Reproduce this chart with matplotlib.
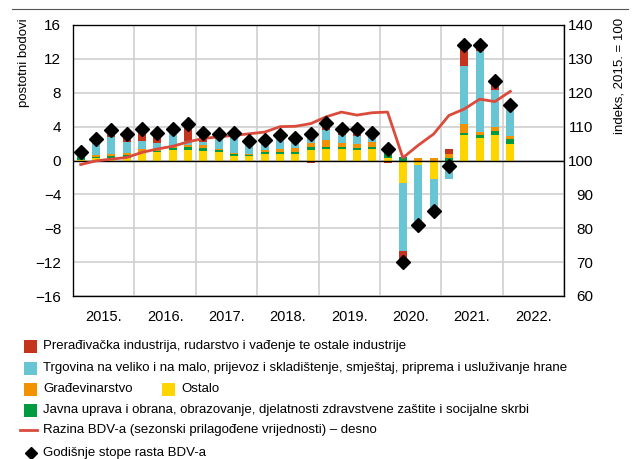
import matplotlib
matplotlib.use('Agg')
import matplotlib.pyplot as plt
from matplotlib import font_manager
import numpy as np
from matplotlib.patches import Rectangle
from matplotlib.lines import Line2D


def has_font(name):
    try:
        font_manager.findfont(name, fallback_to_default=False)
        return True
    except Exception:
        return False


narrow = has_font('Liberation Sans Narrow')
plt.rcParams['font.family'] = (['Liberation Sans Narrow'] if narrow else []) + ['Liberation Sans', 'DejaVu Sans']
plt.rcParams['font.size'] = 10
leg_size = 11 if narrow else 9.5

# kvartali 2015.Q1 - 2022.Q1
years = ['2015.', '2016.', '2017.', '2018.', '2019.', '2020.', '2021.', '2022.']

ostalo = [0.1, 0.3, 0.35, 0.3, 0.9, 1.0, 1.25, 1.25,
          1.15, 1.0, 0.55, 0.5, 0.75, 0.8, 0.8, 1.2,
          1.4, 1.3, 1.2, 1.3, 0.3, -2.7, -0.5, -2.2,
          -0.3, 3.0, 2.6, 3.0, 2.0]
javna = [0.3, 0.1, 0.2, 0.3, 0.15, 0.1, 0.2, 0.3,
         0.35, 0.2, 0.2, 0.2, 0.2, 0.25, 0.2, 0.4,
         0.25, 0.25, 0.25, 0.25, 0.6, 0.4, 0.0, 0.0,
         0.25, 0.3, 0.4, 0.5, 0.5]
gradjevinarstvo = [0.05, 0.2, 0.25, 0.3, 0.3, 0.2, 0.25, 0.3,
                   0.3, 0.15, 0.1, 0.1, 0.25, 0.35, 0.5, 0.5,
                   0.75, 0.55, 0.5, 0.6, 0.1, 0.0, 0.25, 0.25,
                   0.5, 1.0, 0.4, 0.4, 0.4]
trgovina = [0.35, 1.6, 2.0, 1.3, 0.9, 0.8, 1.8, 0.5,
            0.4, 1.5, 2.1, 1.1, 0.9, 1.2, 0.7, 0.5,
            1.2, 0.9, 1.0, 0.85, 0.0, -7.95, -6.9, -3.65,
            -1.9, 6.8, 9.5, 4.4, 3.2]
industrija = [0.0, 0.0, 0.6, 0.6, 1.3, 1.0, 0.05, 1.7,
              0.7, 0.1, 0.1, 0.1, 0.1, 0.1, 0.1, -0.3,
              0.6, 0.4, 0.4, 0.1, -0.35, -1.1, 0.0, 0.0,
              0.55, 2.15, 0.3, 0.9, 0.0]
razina_bdv = [98.8, 99.9, 100.4, 100.9, 102.4, 103.4, 104.2, 105.5,
              106.5, 107.0, 107.4, 107.9, 108.4, 110.0, 110.1, 110.9,
              112.9, 114.3, 113.4, 114.1, 114.3, 100.8, 104.5, 107.8,
              113.3, 115.2, 118.1, 117.4, 120.4]
stope_rasta = [1.0, 2.5, 3.6, 3.1, 3.7, 3.3, 3.7, 4.3,
               3.2, 3.1, 3.3, 2.3, 2.4, 3.0, 2.6, 3.1,
               4.4, 3.7, 3.7, 3.3, 1.3, -12.0, -7.6, -6.0,
               -0.7, 13.6, 13.6, 9.4, 6.5]

series = [
    (ostalo, '#FFD500', 'Ostalo'),
    (javna, '#009B3E', 'Javna uprava i obrana, obrazovanje, djelatnosti zdravstvene zaštite i socijalne skrbi'),
    (gradjevinarstvo, '#F39200', 'Građevinarstvo'),
    (trgovina, '#67C5D4', 'Trgovina na veliko i na malo, prijevoz i skladištenje, smještaj, priprema i usluživanje hrane'),
    (industrija, '#C4341C', 'Prerađivačka industrija, rudarstvo i vađenje te ostale industrije'),
]
line_color = '#DB4B3C'

x = np.arange(len(stope_rasta))

fig = plt.figure(figsize=(6.36, 4.59), dpi=100)
ax = fig.add_axes([73 / 636, 1 - 296 / 459, 491 / 636, 271 / 459])

pos_base = np.zeros(len(x))
neg_base = np.zeros(len(x))
for vals, col, name in series:
    v = np.array(vals)
    p = np.where(v > 0, v, 0)
    n = np.where(v < 0, v, 0)
    ax.bar(x, p, 0.52, bottom=pos_base, color=col, lw=0, zorder=2)
    ax.bar(x, n, 0.52, bottom=neg_base, color=col, lw=0, zorder=2)
    pos_base += p
    neg_base += n

ax.set_xlim(-0.5, 31.5)
ax.set_ylim(-16, 16)
ax.set_yticks(range(-16, 17, 4))
ax.set_xticks(np.arange(-0.5, 32, 4))
ax.set_xticklabels([])
ax.set_xticks(np.arange(1.5, 32, 4), minor=True)
ax.set_xticklabels(years, minor=True)
ax.tick_params(which='both', length=0)
ax.tick_params(axis='y', pad=8.5, labelsize=11)
ax.tick_params(axis='x', which='minor', pad=10, labelsize=10.5)
ax.grid(True, which='major', color='#cfcfcf', lw=1.2)
ax.set_axisbelow(True)
ax.axhline(0, color='black', lw=1, zorder=3)
for s in ax.spines.values():
    s.set_linewidth(0.9)

ax2 = ax.twinx()
ax2.set_ylim(60, 140)
ax2.set_yticks(range(60, 141, 10))
ax2.tick_params(length=0, pad=21, labelsize=11)
for lab in ax2.get_yticklabels():
    lab.set_horizontalalignment('right')
ax2.plot(x, razina_bdv, color=line_color, lw=2, zorder=3)
# dijamanti na lijevoj skali, iznad linije
ax2.plot(x, stope_rasta, 'D', color='black', ms=7, transform=ax.transData, zorder=4)

fig.text(24 / 636, 1 - 18 / 459, 'postotni bodovi', rotation=90, ha='center', va='top', fontsize=9.5)
fig.text(620 / 636, 1 - 18 / 459, 'indeks, 2015. = 100', rotation=90, ha='center', va='top', fontsize=9.5)
fig.add_artist(Line2D([12 / 636, 628 / 636], [1 - 9 / 459, 1 - 9 / 459], color='#555555', lw=0.8))


# legenda
def leg_box(xp, yp, col, text):
    fig.add_artist(Rectangle((xp / 636, 1 - (yp + 7) / 459), 13 / 636, 13 / 459, color=col, lw=0))
    fig.text((xp + 19) / 636, 1 - yp / 459, text, va='center', fontsize=leg_size)


leg_box(24, 346, series[4][1], series[4][2])
leg_box(24, 368, series[3][1], series[3][2])
leg_box(24, 389, series[2][1], series[2][2])
leg_box(162, 389, series[0][1], series[0][2])
leg_box(24, 410, series[1][1], series[1][2])
fig.add_artist(Line2D([20 / 636, 37 / 636], [1 - 430 / 459] * 2, color=line_color, lw=2))
fig.text(43 / 636, 1 - 430 / 459, 'Razina BDV-a (sezonski prilagođene vrijednosti) – desno', va='center', fontsize=leg_size)
fig.add_artist(Line2D([31 / 636], [1 - 453 / 459], marker='D', color='black', ms=6))
fig.text(43 / 636, 1 - 453 / 459, 'Godišnje stope rasta BDV-a', va='center', fontsize=leg_size)

fig.savefig('out.png', dpi=100)
